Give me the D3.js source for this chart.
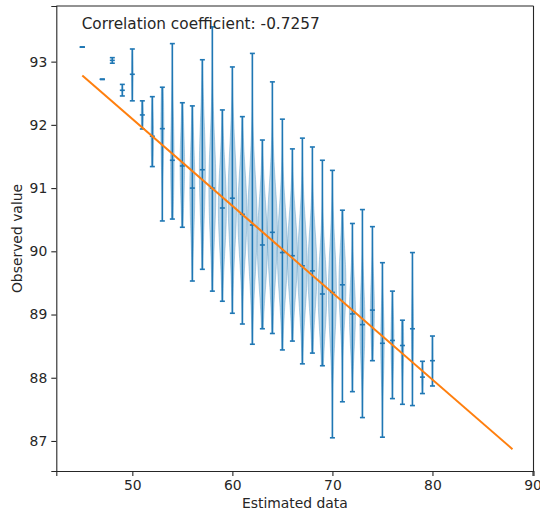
<!DOCTYPE html>
<html><head><meta charset="utf-8">
<script src="https://cdn.jsdelivr.net/npm/d3@7"></script>
<style>body{margin:0;background:#fff} text{font-family:"DejaVu Sans",sans-serif}</style>
</head><body><svg id="c" width="540" height="515"></svg>
<script>
// Estimated data (x positions of each violin)
const estimated = [45,47,48,49,50,51,52,53,54,55,56,57,58,59,60,61,62,63,64,65,66,67,68,69,70,71,72,73,74,75,76,77,78,79,80];
const obsMin  = [93.23,92.72,92.975,92.457,92.38,91.935,91.34,90.48,90.51,90.38,89.53,89.715,89.37,89.21,89.02,88.85,88.53,88.775,88.70,88.44,88.58,88.22,88.39,88.19,87.05,87.62,87.78,87.37,88.27,87.06,87.67,87.58,87.56,87.75,87.87];
const obsMax  = [93.23,92.72,93.063,92.64,93.2,92.38,92.446,92.595,93.285,92.35,92.30,93.03,93.55,92.236,92.916,92.13,93.13,91.76,92.68,92.09,91.62,91.79,91.65,91.44,91.28,90.65,90.44,90.66,90.39,89.82,89.37,88.91,89.98,88.26,88.66];
const obsMean = [93.23,92.72,93.02,92.547,92.8,92.157,91.82,91.94,91.44,91.35,91.0,91.29,91.0,90.685,90.84,90.585,90.416,90.10,90.30,89.98,89.93,89.77,89.69,89.325,89.35,89.47,89.01,88.84,89.07,88.545,88.59,88.51,88.775,88.01,88.27];
const obsSpread = [0.1,0.1,0.03,0.06,0.3,0.2,0.4,0.6,0.7,0.6,0.7,0.8,0.8,0.7,0.8,0.7,0.8,0.7,0.75,0.7,0.65,0.7,0.65,0.65,0.75,0.6,0.55,0.6,0.5,0.55,0.45,0.4,0.5,0.2,0.3];
const violinWidth = [0,0,0.05,0.1,0.15,0.2,0.25,0.3,0.35,0.45,0.5,0.6,0.7,0.8,0.85,0.9,0.95,1,1,1,1,0.95,0.9,0.85,0.8,0.7,0.6,0.5,0.4,0.35,0.3,0.25,0.2,0.15,0.1];
const fitX = [45, 88];
const fitY = [92.78, 86.87];
const xTicks = [50,60,70,80,90];
const yTicks = [87,88,89,90,91,92,93];
const corrText = "Correlation coefficient: -0.7257";

const svg = d3.select("#c");
const L=56.3, R=533.5, T=6, B=471;
const x = d3.scaleLinear().domain([42.4,90.1]).range([L,R]);
const y = d3.scaleLinear().domain([86.525,93.88]).range([B,T]);
const blue="#1f77b4", orange="#ff7f0e";

// violins
const vg = svg.append("g");
estimated.forEach((ex,i)=>{
  const lo=obsMin[i], hi=obsMax[i], w=violinWidth[i];
  if(hi-lo<=0 || w<=0) return;
  const n=60;
  const m=obsMean[i], s=obsSpread[i];
  const dens=[];
  for(let k=0;k<=n;k++){const t=lo+(hi-lo)*k/n; dens.push([t,Math.exp(-0.5*((t-m)/s)**2)]);}
  const mx=d3.max(dens,d=>d[1]);
  const area=d3.area().x0(d=>x(ex-0.5*w*d[1]/mx)).x1(d=>x(ex+0.5*w*d[1]/mx)).y(d=>y(d[0]));
  vg.append("path").attr("d",area(dens)).attr("fill",blue).attr("fill-opacity",0.3)
    .attr("stroke",blue).attr("stroke-opacity",0.3).attr("stroke-width",1);
});

// bars & caps
const lg = svg.append("g").attr("stroke",blue).attr("stroke-width",1.6);
estimated.forEach((ex,i)=>{
  const cx=x(ex);
  if(obsMax[i]>obsMin[i]) lg.append("line").attr("x1",cx).attr("x2",cx).attr("y1",y(obsMin[i])).attr("y2",y(obsMax[i]));
  [obsMin[i],obsMax[i],obsMean[i]].forEach(v=>{
    lg.append("line").attr("x1",x(ex-0.25)).attr("x2",x(ex+0.25)).attr("y1",y(v)).attr("y2",y(v));
  });
});

// fit line
svg.append("path").attr("d",d3.line().x(d=>x(d[0])).y(d=>y(d[1]))(fitX.map((v,i)=>[v,fitY[i]])))
  .attr("stroke",orange).attr("stroke-width",2).attr("fill","none");

// axes
const ax=svg.append("g").attr("transform",`translate(0,${B})`).call(d3.axisBottom(x).tickValues(xTicks).tickSize(5).tickPadding(4).tickFormat(d3.format("d")));
const ay=svg.append("g").attr("transform",`translate(${L},0)`).call(d3.axisLeft(y).tickValues(yTicks).tickSize(5).tickPadding(4).tickFormat(d3.format("d")));
[ax,ay].forEach(a=>{a.selectAll("text").attr("font-size","13.9px").attr("fill","#262626").attr("font-family","DejaVu Sans");a.selectAll("line").attr("stroke","#262626").attr("stroke-width",1.1);a.select(".domain").attr("stroke","#262626").attr("stroke-width",1.1);});
svg.append("line").attr("x1",L).attr("x2",R).attr("y1",T).attr("y2",T).attr("stroke","#262626").attr("stroke-width",1.1);
svg.append("line").attr("x1",R).attr("x2",R).attr("y1",T).attr("y2",B).attr("stroke","#262626").attr("stroke-width",1.1);

svg.append("text").attr("x",(L+R)/2).attr("y",508).attr("text-anchor","middle").attr("font-size","13.9px").attr("fill","#262626").text("Estimated data");
svg.append("text").attr("transform",`translate(22,${(T+B)/2}) rotate(-90)`).attr("text-anchor","middle").attr("font-size","13.9px").attr("fill","#262626").text("Observed value");
svg.append("text").attr("x",x(42.4)+0.05*(R-L)+1.5).attr("y",T+0.05*(B-T)).attr("font-size","15.3px").attr("fill","#262626").text(corrText);
</script></body></html>
